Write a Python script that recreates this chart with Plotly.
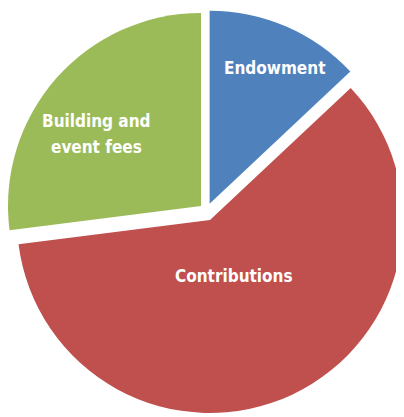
import plotly.graph_objects as go

labels = ["Endowment", "Contributions", "Building and event fees"]
values = [13, 60, 27]
colors = ["#4F81BD", "#C0504D", "#9BBB59"]
# label lines and their centres in page pixels
label_lines = [
    ("Endowment", 274, 68),
    ("Contributions", 233.5, 276),
    ("Building and", 96.5, 121),
    ("event fees", 96.5, 146.5),
]

# the page body has an 8px default margin, so the figure is drawn offset by 8px
OFF = 8
W, H = 404 - OFF, 417 - OFF
R = 193  # slice radius in px
# exploded slice centres (page pixels), one per slice
slice_centres = [(209.6, 203.7), (210, 220), (201, 206)]

fig = go.Figure()
for i, (cx, cy) in enumerate(slice_centres):
    fx, fy = cx - OFF, cy - OFF
    x0 = max(0, fx - R)
    x1 = min(W, x0 + 2 * R)
    ybot = H - fy
    y0 = max(0, ybot - R)
    y1 = min(H, y0 + 2 * R)
    slice_colors = [c if j == i else "rgba(0,0,0,0)" for j, c in enumerate(colors)]
    fig.add_trace(
        go.Pie(
            labels=labels,
            values=values,
            marker=dict(colors=slice_colors, line=dict(width=0)),
            sort=False,
            direction="clockwise",
            rotation=0,
            textinfo="none",
            hoverinfo="label+percent",
            domain=dict(x=[x0 / W, x1 / W], y=[y0 / H, y1 / H]),
            showlegend=False,
        )
    )

annotations = []
for txt, px, py in label_lines:
    annotations.append(
        dict(
            text=txt,
            x=(px - OFF) / W,
            y=1 - (py - OFF) / H,
            xref="paper",
            yref="paper",
            showarrow=False,
            xanchor="center",
            yanchor="middle",
            align="center",
            font=dict(family="DejaVu Sans Condensed, sans-serif",
                      size=17, color="white", weight="bold"),
        )
    )

fig.update_layout(
    width=W,
    height=H,
    margin=dict(l=0, r=0, t=0, b=0),
    paper_bgcolor="white",
    plot_bgcolor="white",
    annotations=annotations,
)

fig.write_html("out.html")
